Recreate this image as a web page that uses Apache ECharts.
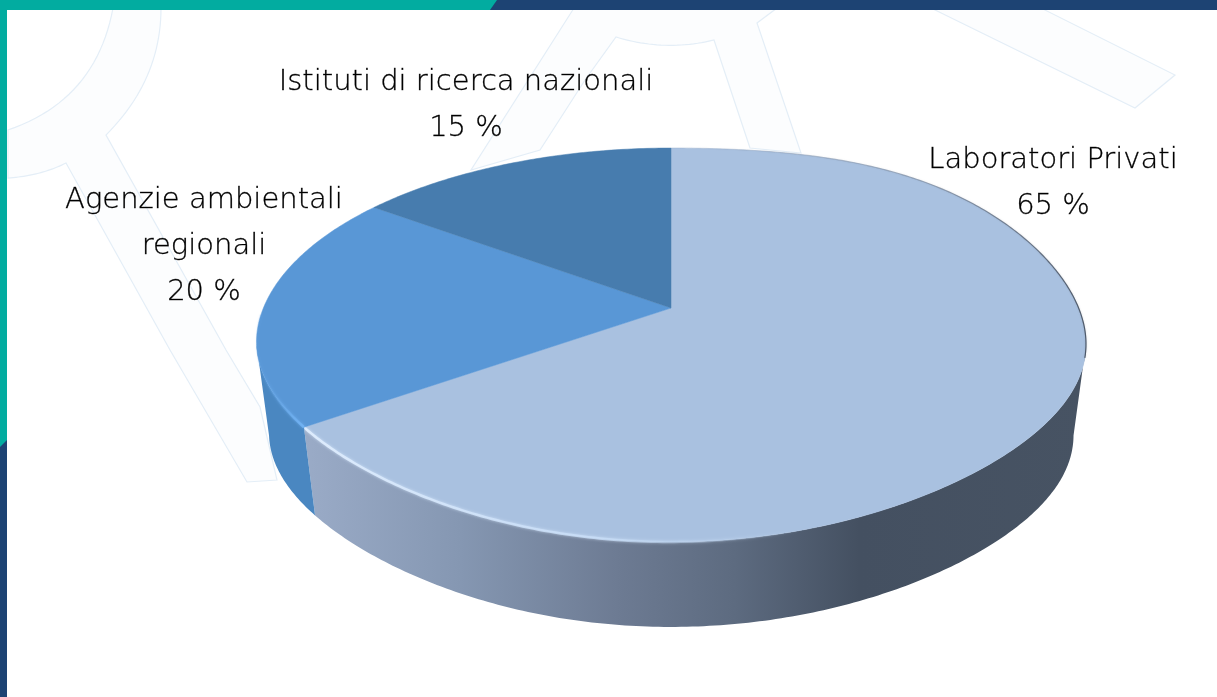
<!DOCTYPE html>
<html>
<head>
<meta charset="utf-8">
<style>html,body{margin:0;padding:0;background:#fff}#c{width:1217px;height:697px}</style>
<script src="https://cdn.jsdelivr.net/npm/echarts@6/dist/echarts.min.js"></script>
</head>
<body>
<div id="c"></div>
<script>
// Chart data
const categories = ['Laboratori Privati', 'Agenzie ambientali\nregionali', 'Istituti di ricerca nazionali'];
const shares = [65, 20, 15];

// Appearance
const topColors = ['#a9c1e0', '#5997d6', '#477cae'];
const labelCentres = [[1053, 160], [204, 200], [466, 82]];
const cx = 671, cy = 308, a = 407.6, b = 190, k = 0.1878;   // projected disc
const wallScale = 0.97, wallDrop = 92;
const total = shares.reduce((s, v) => s + v, 0);

function project(deg, scale, drop) {
  const t = deg * Math.PI / 180, u = Math.sin(t), v = -Math.cos(t), w = 1 - k * v;
  const bend = Math.pow(Math.sin(2 * t), 2);
  const norm = ((deg % 360) + 360) % 360;
  const dy = norm <= 270 ? -7 * bend : 0;
  const dx = norm > 180 && norm <= 270 ? 4 * bend : 0;
  return [cx + dx + scale * a * u / w, cy + dy + drop + scale * b * v / w];
}
function arc(from, to, scale, drop) {
  const n = Math.max(2, Math.ceil(Math.abs(to - from) * 1.5)), out = [];
  for (let i = 0; i <= n; i++) out.push(project(from + (to - from) * i / n, scale, drop));
  return out;
}
function quad(p0, c, p1) {
  const out = [];
  for (let i = 0; i <= 24; i++) {
    const t = i / 24, m = 1 - t;
    out.push([m * m * p0[0] + 2 * m * t * c[0] + t * t * p1[0], m * m * p0[1] + 2 * m * t * c[1] + t * t * p1[1]]);
  }
  return out;
}
const LG = echarts.graphic.LinearGradient;
const wallFills = [
  new LG(0, 0, 1, 0, [
    {offset: 0, color: '#9aabc7'}, {offset: 0.2, color: '#8597b2'},
    {offset: 0.4, color: '#6d7b93'}, {offset: 0.55, color: '#5d6b80'},
    {offset: 0.71, color: '#445061'}, {offset: 1, color: '#475363'}]),
  '#4a87c1', '#3d6a96'
];

function renderItem(params, api) {
  const i = params.dataIndex, val = api.value(0);
  let before = 0;
  for (let j = 0; j < i; j++) before += shares[j];
  const start = before / total * 360, end = (before + val) / total * 360;
  const children = [];
  const wFrom = Math.max(start, 101), wTo = Math.min(end, 259);
  if (wTo > wFrom) {
    const pts = arc(wFrom, wTo, 1, 0).concat(arc(wFrom, wTo, wallScale, wallDrop).reverse());
    children.push({type: 'polygon', shape: {points: pts}, style: {fill: wallFills[i]}});
  }
  children.push({
    type: 'polygon',
    shape: {points: [[cx, cy]].concat(arc(start, end, 1, 0))},
    style: {fill: topColors[i], stroke: topColors[i], lineWidth: 0.5}
  });
  // soft highlight on the front rim, dark hairline on the back rim
  if (i === 0) {
    children.push({
      type: 'polyline', shape: {points: arc(234, 165, 1, 0)},
      style: {fill: null, lineWidth: 2.5, shadowBlur: 3, shadowColor: 'rgba(215,232,252,0.8)',
        stroke: new LG(0, 0, 1, 0, [
          {offset: 0, color: 'rgba(222,236,253,1)'},
          {offset: 0.6, color: 'rgba(200,222,248,0.8)'},
          {offset: 1, color: 'rgba(170,195,225,0)'}])}
    });
    children.push({
      type: 'polyline', shape: {points: arc(0, 105, 1, 0)},
      style: {fill: null, lineWidth: 1.2, shadowBlur: 2, shadowColor: 'rgba(80,90,105,0.3)',
        stroke: new LG(0, 0, 1, 0, [
          {offset: 0, color: 'rgba(120,130,145,0.05)'},
          {offset: 0.6, color: 'rgba(90,100,115,0.4)'},
          {offset: 1, color: 'rgba(60,70,85,0.85)'}])}
    });
  }
  if (i === 1) {
    children.push({
      type: 'polyline', shape: {points: arc(234, 268, 1, 0)},
      style: {fill: null, lineWidth: 2.5, shadowBlur: 3, shadowColor: 'rgba(115,180,245,0.8)',
        stroke: new LG(1, 0, 0, 0, [
          {offset: 0, color: 'rgba(115,180,245,1)'},
          {offset: 1, color: 'rgba(95,160,225,0)'}])}
    });
  }
  children.push({
    type: 'text', z2: 50,
    style: {
      x: labelCentres[i][0], y: labelCentres[i][1] - 23,
      text: categories[i] + '\n' + val + ' %',
      align: 'center', verticalAlign: 'top',
      font: '200 29px "DejaVu Sans", Inter, sans-serif',
      lineHeight: 46, fill: '#000000', stroke: '#333333', lineWidth: 0.35
    }
  });
  return {type: 'group', children};
}

const wm = {fill: '#fcfdfe', stroke: '#e4eef7', lineWidth: 1.2};
const ringShape = [].concat(
  quad([113, 8], [96, 100], [8, 130]),
  quad([8, 178], [40, 176], [66, 163]),
  [[170, 350], [247, 482], [277, 480], [260, 407], [226, 350]],
  quad([106, 135], [161, 80], [161, 8]));
const hubShape = [].concat(
  [[574, 8], [471, 170], [540, 150], [585, 80]],
  quad([616, 37], [665, 52], [714, 40]),
  [[750, 148], [801, 153], [757, 23], [777, 8]]);
const barShape = [[931, 8], [1135, 108], [1175, 75], [1041, 8]];

const chart = echarts.init(document.getElementById('c'));
chart.setOption({
  animation: false,
  backgroundColor: '#ffffff',
  graphic: {elements: [
    {type: 'polygon', z: 0, style: wm, shape: {points: ringShape}},
    {type: 'polygon', z: 0, style: wm, shape: {points: hubShape}},
    {type: 'polygon', z: 0, style: wm, shape: {points: barShape}},
    {type: 'polygon', z: 10, shape: {points: [[0, 0], [1217, 0], [1217, 10], [0, 10]]}, style: {fill: '#1d4373'}},
    {type: 'polygon', z: 11, shape: {points: [[0, 0], [497, 0], [490, 10], [0, 10]]}, style: {fill: '#02aca0'}},
    {type: 'polygon', z: 10, shape: {points: [[0, 440], [7, 440], [7, 697], [0, 697]]}, style: {fill: '#1d4373'}},
    {type: 'polygon', z: 11, shape: {points: [[0, 0], [7, 0], [7, 440], [0, 447]]}, style: {fill: '#02aca0'}}
  ]},
  series: [{
    type: 'custom',
    coordinateSystem: 'none',
    renderItem,
    z: 2,
    data: shares.map(v => [v])
  }]
});
</script>
</body>
</html>
